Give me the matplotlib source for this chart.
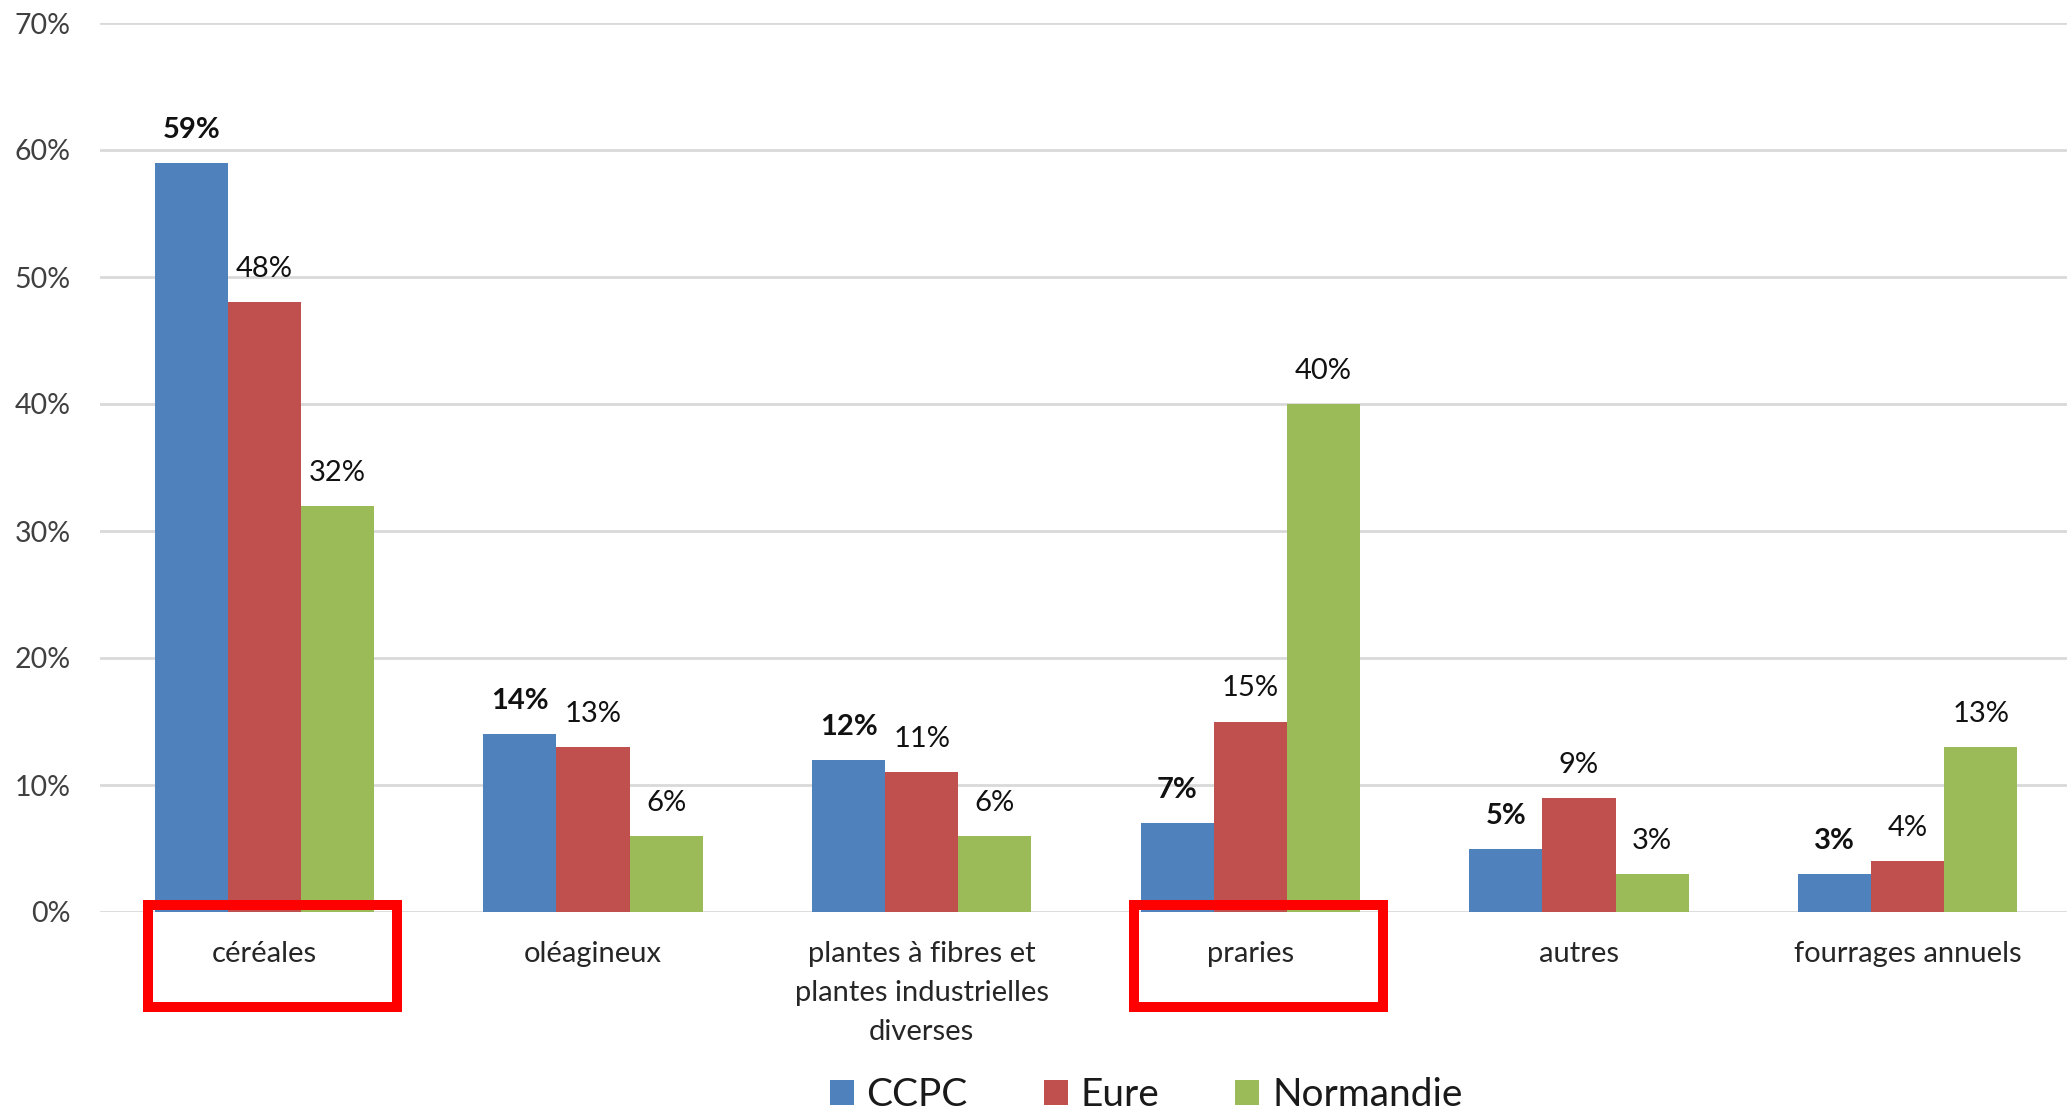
import matplotlib
matplotlib.use("Agg")
import matplotlib.pyplot as plt
import matplotlib.transforms as mtransforms
from matplotlib.patches import Rectangle, Patch
import numpy as np

categories = ["céréales", "oléagineux", "plantes à fibres et\nplantes industrielles\ndiverses",
              "praries", "autres", "fourrages annuels"]
series_names = ["CCPC", "Eure", "Normandie"]
ccpc = [59, 14, 12, 7, 5, 3]
eure = [48, 13, 11, 15, 9, 4]
normandie = [32, 6, 6, 40, 3, 13]
yticks = [0, 10, 20, 30, 40, 50, 60, 70]
highlighted = ["céréales", "praries"]

colors = ["#4F81BD", "#C0504D", "#9BBB59"]
plt.rcParams['font.family'] = ['Lato', 'DejaVu Sans']

W, H = 2067, 1112
fig = plt.figure(figsize=(W / 100, H / 100), dpi=100)
ax = fig.add_axes([100 / W, (H - 912) / H, 1972 / W, (912 - 23) / H])

x = np.arange(len(categories))
bw = 1 / 4.5
all_series = [ccpc, eure, normandie]
for k, (vals, col) in enumerate(zip(all_series, colors)):
    pos = x + (k - 1) * bw
    ax.bar(pos, vals, width=bw, color=col, zorder=3, label=series_names[k])
    for px, v in zip(pos, vals):
        ax.annotate(f"{v}%", (px, v), xytext=(0, 18), textcoords="offset points",
                    ha="center", va="baseline", fontsize=21,
                    fontweight="bold" if k == 0 else "normal", color="#111111")

ax.set_xlim(-0.5, len(categories) - 0.5)
ax.set_ylim(0, 70)
ax.set_yticks(yticks)
ax.set_yticklabels([f"{t}%" for t in yticks], fontsize=20.5, color="#404040")
ax.set_xticks(x)
ax.set_xticklabels(categories, fontsize=21, color="#262626", linespacing=1.62)
ax.tick_params(axis="both", length=0)
ax.tick_params(axis="y", pad=21)
ax.tick_params(axis="x", pad=21)
ax.grid(axis="y", color="#D9D9D9", linewidth=2, zorder=0)
for s in ax.spines.values():
    s.set_visible(False)

# red highlight boxes around selected category labels
trans = mtransforms.blended_transform_factory(ax.transData, fig.transFigure)
for name in highlighted:
    i = categories.index(name)
    r = Rectangle((i - 0.353, (H - 1007) / H), 0.757, 102 / H, transform=trans,
                  fill=False, edgecolor="#FF0000", linewidth=7.2, clip_on=False, zorder=5)
    fig.add_artist(r)

handles = [Patch(facecolor=c, edgecolor="none", label=n) for c, n in zip(colors, series_names)]
fig.legend(handles=handles, loc="center", bbox_to_anchor=(1146 / W, (H - 1095) / H),
           ncol=3, frameon=False, fontsize=28, handlelength=0.62, handleheight=0.62,
           handletextpad=0.33, columnspacing=1.95, borderpad=0, labelcolor="#1a1a1a")

fig.savefig("out.png", dpi=100)
